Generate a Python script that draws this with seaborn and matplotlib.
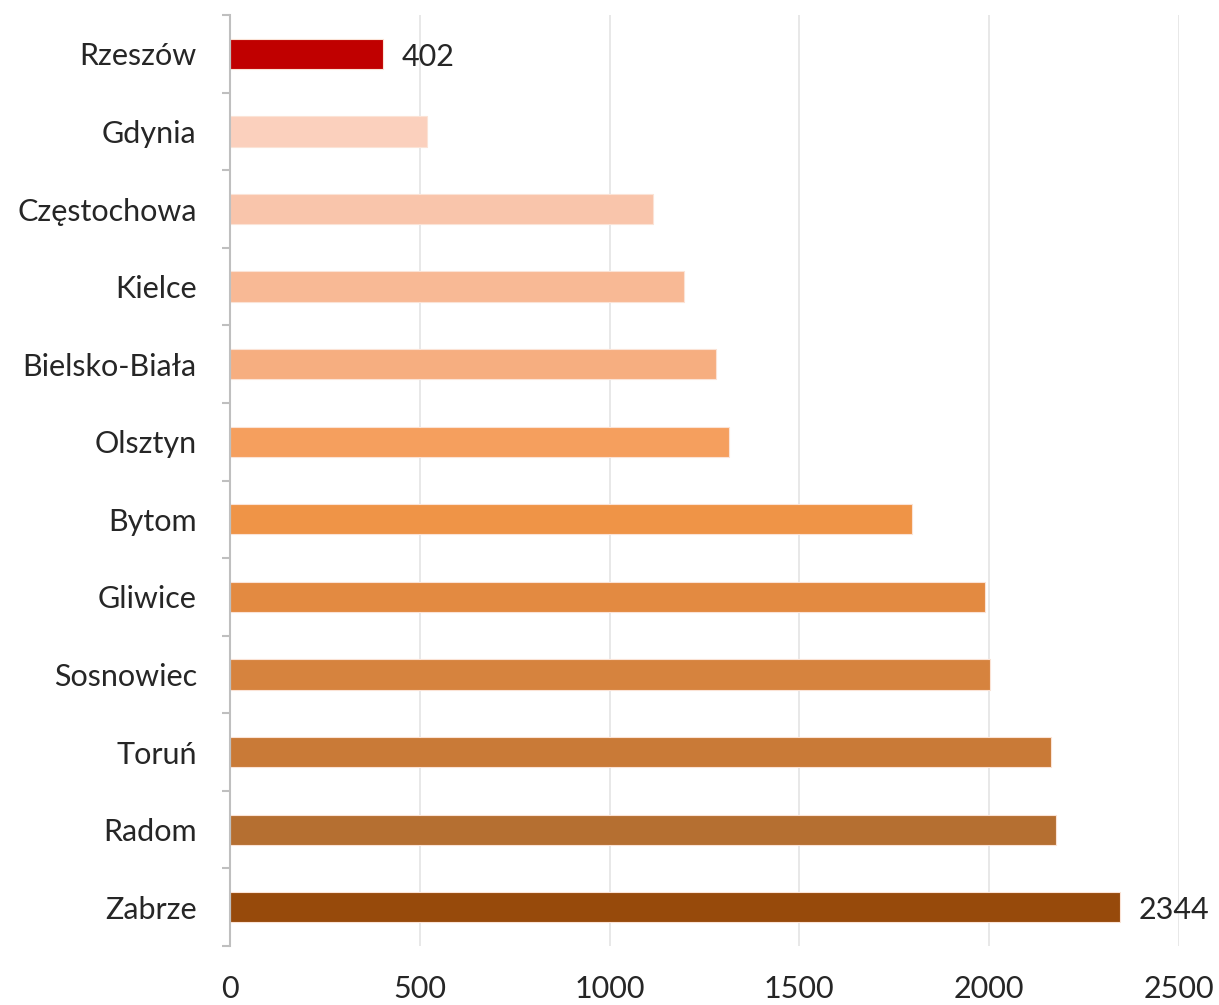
import matplotlib
matplotlib.use("Agg")
import matplotlib.pyplot as plt
import seaborn as sns
import pandas as pd
import numpy as np

cities = ["Rzeszów", "Gdynia", "Częstochowa", "Kielce", "Bielsko-Biała", "Olsztyn",
          "Bytom", "Gliwice", "Sosnowiec", "Toruń", "Radom", "Zabrze"]
values = [402, 520, 1115, 1196, 1281, 1316, 1797, 1990, 2002, 2163, 2176, 2344]
colors = ["#C00000", "#FBD0BD", "#F9C5AB", "#F8B995", "#F6AE80", "#F59F5E",
          "#EF9447", "#E38A41", "#D6833E", "#C97A37", "#B56F31", "#974A0B"]
labelled = ["Rzeszów", "Zabrze"]
xticks = [0, 500, 1000, 1500, 2000, 2500]

df = pd.DataFrame({"city": cities, "value": values})

sns.set_style("white")
plt.rcParams["font.family"] = ["Lato", "DejaVu Sans"]

fig = plt.figure(figsize=(12.19, 10.05), dpi=100)
ax = fig.add_axes([0.1887, 0.0587, 0.967 - 0.1887, 0.985 - 0.0587])

sns.barplot(data=df, y="city", x="value", hue="city", palette=colors, order=cities,
            hue_order=cities, width=0.39, orient="h", legend=False, ax=ax,
            saturation=1, edgecolor="#FBE3D6", linewidth=0.8)

ax.set_xlim(0, 2500)
ax.set_ylim(len(cities) - 0.5, -0.5)
ax.set_xticks(xticks)
ax.set_xticklabels([str(t) for t in xticks])
ax.xaxis.grid(True, color="#E6E6E6", linewidth=1.3)
ax.set_axisbelow(True)
ax.set_xlabel("")
ax.set_ylabel("")

for s in ["top", "right", "bottom"]:
    ax.spines[s].set_visible(False)
ax.spines["left"].set_color("#BFBFBF")
ax.spines["left"].set_linewidth(1.5)

ax.tick_params(axis="x", length=0, pad=21, labelsize=22, labelcolor="#262626")
ax.tick_params(axis="y", which="major", length=0, pad=24, labelsize=22, labelcolor="#262626")
ax.set_yticks(np.arange(len(cities) + 1) - 0.5, minor=True)
ax.tick_params(axis="y", which="minor", left=True, length=6, width=1.5, color="#BFBFBF", direction="out")

for c, v in zip(cities, values):
    if c in labelled:
        ax.annotate(str(v), xy=(v, cities.index(c)), xytext=(14, -2), textcoords="offset points",
                    va="center", ha="left", fontsize=22, color="#262626")

fig.savefig("out.png", dpi=100, facecolor="white")
